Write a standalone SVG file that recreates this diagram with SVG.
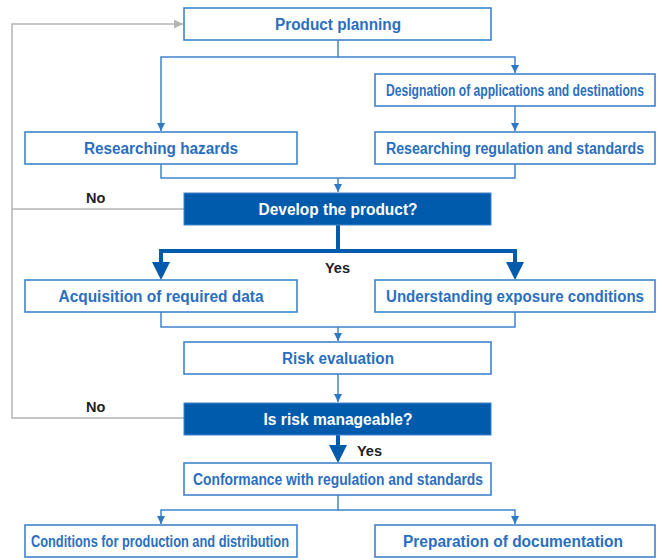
<svg xmlns="http://www.w3.org/2000/svg" width="662" height="560" viewBox="0 0 662 560">
<style>
.box{fill:#ffffff;stroke:#3f84cc;stroke-width:1.6}
.dark{fill:#005bac;stroke:#3f84cc;stroke-width:1}
.t{font-family:"Liberation Sans",Arial,sans-serif;font-weight:bold;font-size:16px;fill:#2a6fbf;text-anchor:middle}
.tw{font-family:"Liberation Sans",Arial,sans-serif;font-weight:bold;font-size:16px;fill:#ffffff;text-anchor:middle}
.lbl{font-family:"Liberation Sans",Arial,sans-serif;font-weight:bold;font-size:14.5px;fill:#222222}
.c{fill:none;stroke:#3f84cc;stroke-width:1.5}
.ck{fill:none;stroke:#005bac;stroke-width:4}
.g{fill:none;stroke:#b4b4b4;stroke-width:1.5}
</style>
<defs>
<marker id="a" viewBox="0 0 8 8" refX="8" refY="4" markerWidth="8" markerHeight="8" markerUnits="userSpaceOnUse" orient="auto">
<path d="M0,0 L8,4 L0,8 Z" fill="#2f78c4"/>
</marker>
<marker id="ag" viewBox="0 0 8 8" refX="8" refY="4" markerWidth="9" markerHeight="9" markerUnits="userSpaceOnUse" orient="auto">
<path d="M0,0 L8,4 L0,8 Z" fill="#b4b4b4"/>
</marker>
</defs>
<g id="connectors">
<path class="c" d="M338,40 V57 H161 V131" marker-end="url(#a)"/>
<path class="c" d="M338,57 H515 V73" marker-end="url(#a)"/>
<path class="c" d="M515,106 V131" marker-end="url(#a)"/>
<path class="c" d="M161,164 V178 H515 V164"/>
<path class="c" d="M338,178 V192" marker-end="url(#a)"/>
<path class="ck" d="M338,225 V251 H161 V265"/>
<path class="ck" d="M338,251 H515 V265"/>
<path d="M152,262 L170,262 L161,280 Z" fill="#005bac"/>
<path d="M506,262 L524,262 L515,280 Z" fill="#005bac"/>
<path class="c" d="M161,312 V327 H515 V312"/>
<path class="c" d="M338,327 V341" marker-end="url(#a)"/>
<path class="c" d="M338,374 V402" marker-end="url(#a)"/>
<path class="ck" d="M338,435 V447"/>
<path d="M329,445 L347,445 L338,463 Z" fill="#005bac"/>
<path class="c" d="M338,495 V510 H161 V524" marker-end="url(#a)"/>
<path class="c" d="M338,510 H515 V524" marker-end="url(#a)"/>
<path class="g" d="M184,418 H12 V24 H183" marker-end="url(#ag)"/>
<path class="g" d="M184,209 H12"/>
<text class="lbl" x="86" y="203">No</text>
<text class="lbl" x="325" y="273">Yes</text>
<text class="lbl" x="86" y="412">No</text>
<text class="lbl" x="357" y="456">Yes</text>
</g>
<g id="n1"><rect class="box" x="184" y="8" width="307" height="32"/><text class="t" x="338" y="29.5" textLength="126" lengthAdjust="spacingAndGlyphs">Product planning</text></g>
<g id="n2"><rect class="box" x="375" y="74" width="280" height="32"/><text class="t" x="515" y="95.5" textLength="258" lengthAdjust="spacingAndGlyphs">Designation of applications and destinations</text></g>
<g id="n3"><rect class="box" x="25" y="132" width="272" height="32"/><text class="t" x="161" y="153.5" textLength="154" lengthAdjust="spacingAndGlyphs">Researching hazards</text></g>
<g id="n4"><rect class="box" x="375" y="132" width="280" height="32"/><text class="t" x="515" y="153.5" textLength="258" lengthAdjust="spacingAndGlyphs">Researching regulation and standards</text></g>
<g id="n5"><rect class="dark" x="184" y="193" width="307" height="32"/><text class="tw" x="338" y="214.5" textLength="159" lengthAdjust="spacingAndGlyphs">Develop the product?</text></g>
<g id="n6"><rect class="box" x="25" y="280" width="272" height="32"/><text class="t" x="161" y="301.5" textLength="205" lengthAdjust="spacingAndGlyphs">Acquisition of required data</text></g>
<g id="n7"><rect class="box" x="375" y="280" width="280" height="32"/><text class="t" x="515" y="301.5" textLength="258" lengthAdjust="spacingAndGlyphs">Understanding exposure conditions</text></g>
<g id="n8"><rect class="box" x="184" y="342" width="307" height="32"/><text class="t" x="338" y="363.5" textLength="112" lengthAdjust="spacingAndGlyphs">Risk evaluation</text></g>
<g id="n9"><rect class="dark" x="184" y="403" width="307" height="32"/><text class="tw" x="338" y="424.5" textLength="149" lengthAdjust="spacingAndGlyphs">Is risk manageable?</text></g>
<g id="n10"><rect class="box" x="184" y="463" width="307" height="32"/><text class="t" x="338" y="484.5" textLength="290" lengthAdjust="spacingAndGlyphs">Conformance with regulation and standards</text></g>
<g id="n11"><rect class="box" x="25" y="525" width="272" height="32"/><text class="t" x="160" y="546.5" textLength="258" lengthAdjust="spacingAndGlyphs">Conditions for production and distribution</text></g>
<g id="n12"><rect class="box" x="375" y="525" width="280" height="32"/><text class="t" x="513" y="546.5" textLength="220" lengthAdjust="spacingAndGlyphs">Preparation of documentation</text></g>
</svg>
